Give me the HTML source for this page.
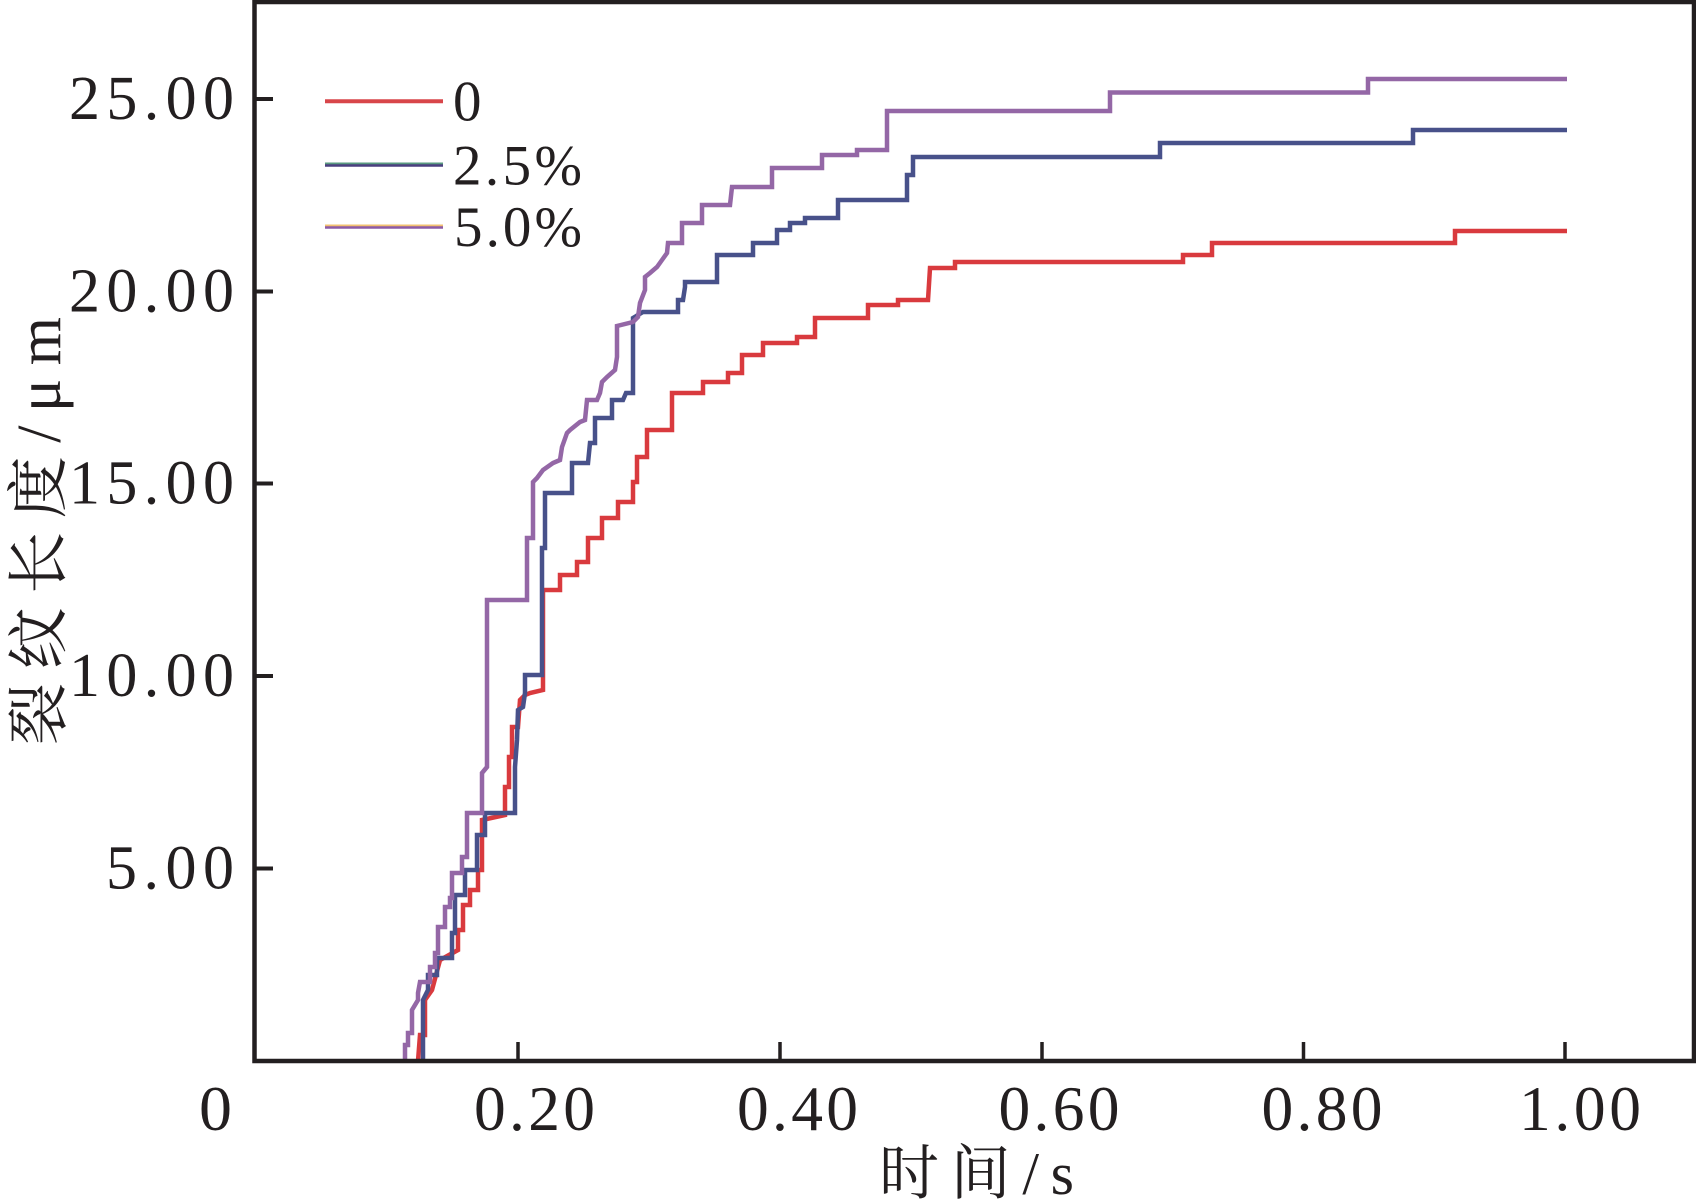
<!DOCTYPE html>
<html><head><meta charset="utf-8"><style>
html,body{margin:0;padding:0;background:#fff;}
svg{display:block;}
.num{font-family:"Liberation Serif","Noto Serif CJK SC",serif;fill:#231f20;}
.cjk{font-family:"Liberation Serif","Noto Serif CJK SC","Noto Sans CJK SC",serif;fill:#231f20;}
</style></head><body>
<svg width="1696" height="1201" viewBox="0 0 1696 1201" xmlns="http://www.w3.org/2000/svg">
<rect width="1696" height="1201" fill="#fff"/>

<!-- series -->
<g fill="none" stroke-width="4.5" stroke-linejoin="miter" stroke-linecap="butt">
<polyline stroke="#d93a3e" points="418,1061 420,1035 425,1035 425,1000 432,990 440,960 458,950 458,930 463,930 463,905 470,905 470,890 478,890 478,870 482,870 482,820 505,815 505,787 509,787 509,757 512,757 512,727 518,727 520,700 525,695 530,693 543,690 543,590 560,590 560,575 577,575 577,562 588,562 588,538 602,538 602,518 618,518 618,502 633,502 633,482 637,482 637,457 647,457 647,430 672,430 672,393 703,393 703,382 728,382 728,373 742,373 742,355 763,355 763,343 797,343 797,337 815,337 815,318 868,318 868,305 898,305 898,300 928,300 930,268 955,268 955,262 1183,262 1183,255 1212,255 1212,243 1455,243 1455,231 1567,231"/>
<polyline stroke="#48518a" points="423,1061 423,1000 428,990 428,975 437,975 437,958 452,958 452,933 455,933 455,895 465,895 465,870 477,870 477,835 485,835 485,813 515,813 515,767 517,740 518,710 523,707 525,693 525,675 542,675 542,548 545,548 545,493 572,493 572,463 588,463 590,443 595,443 595,418 612,418 612,400 623,400 626,393 633,393 633,318 643,312 678,312 678,300 683,300 685,287 685,282 717,282 717,255 753,255 753,243 777,243 777,230 790,230 790,223 805,223 805,218 838,218 838,200 907,200 907,175 913,175 913,157 1160,157 1160,143 1413,143 1413,130 1567,130"/>
<polyline stroke="#9467a6" points="405,1061 405,1045 408,1045 408,1033 412,1033 412,1010 418,1000 418,993 420,982 430,982 430,967 435,967 435,953 438,953 438,927 445,927 445,907 450,907 450,898 452,898 452,873 462,873 462,857 467,857 467,813 482,813 482,773 487,767 487,600 527,600 527,538 533,538 533,482 537,478 543,470 553,463 560,460 562,447 567,433 570,430 580,422 585,420 587,400 597,400 600,393 602,382 607,377 615,370 617,357 617,326 633,322 638,317 640,303 645,290 645,277 650,273 657,267 662,260 667,253 668,243 682,243 682,223 702,223 702,205 730,205 732,187 772,187 772,168 822,168 822,155 857,155 857,150 887,150 887,111 1110,111 1110,92.5 1368,92.5 1368,79 1567,79"/>
</g>

<!-- frame -->
<rect x="254.5" y="2" width="1439.5" height="1059" fill="none" stroke="#231f20" stroke-width="4.5"/>

<!-- y ticks -->
<g stroke="#231f20" stroke-width="4">
<line x1="256" y1="99" x2="273" y2="99"/>
<line x1="256" y1="291.5" x2="273" y2="291.5"/>
<line x1="256" y1="483.5" x2="273" y2="483.5"/>
<line x1="256" y1="676" x2="273" y2="676"/>
<line x1="256" y1="868.5" x2="273" y2="868.5"/>
</g>
<!-- x ticks -->
<g stroke="#231f20" stroke-width="3.5">
<line x1="518" y1="1060" x2="518" y2="1042"/>
<line x1="780" y1="1060" x2="780" y2="1042"/>
<line x1="1042" y1="1060" x2="1042" y2="1042"/>
<line x1="1303.5" y1="1060" x2="1303.5" y2="1042"/>
<line x1="1565" y1="1060" x2="1565" y2="1042"/>
</g>

<!-- y tick labels -->
<g class="num" font-size="62">
<text x="69" y="119" textLength="165" lengthAdjust="spacing">25.00</text>
<text x="69" y="311.5" textLength="165" lengthAdjust="spacing">20.00</text>
<text x="69" y="503.5" textLength="165" lengthAdjust="spacing">15.00</text>
<text x="69" y="696" textLength="165" lengthAdjust="spacing">10.00</text>
<text x="106" y="888.5" textLength="128" lengthAdjust="spacing">5.00</text>
</g>

<!-- x tick labels -->
<g class="num" font-size="63.5">
<text x="199" y="1130" textLength="33" lengthAdjust="spacingAndGlyphs">0</text>
<text x="474" y="1130" textLength="121" lengthAdjust="spacing">0.20</text>
<text x="737" y="1130" textLength="121" lengthAdjust="spacing">0.40</text>
<text x="998.5" y="1130" textLength="121" lengthAdjust="spacing">0.60</text>
<text x="1261.5" y="1130" textLength="121" lengthAdjust="spacing">0.80</text>
<text x="1519" y="1130" textLength="122" lengthAdjust="spacing">1.00</text>
</g>

<!-- legend -->
<line x1="325" y1="101.3" x2="443" y2="101.3" stroke="#d8464a" stroke-width="4"/>
<line x1="325" y1="163.5" x2="443" y2="163.5" stroke="#5a9a80" stroke-width="2"/>
<line x1="325" y1="165.5" x2="443" y2="165.5" stroke="#4a3f7f" stroke-width="2.5"/>
<line x1="325" y1="225.5" x2="443" y2="225.5" stroke="#f2c070" stroke-width="2"/>
<line x1="325" y1="227.5" x2="443" y2="227.5" stroke="#8c5aa6" stroke-width="2.5"/>
<g class="num" font-size="57">
<text x="453" y="120.5">0</text>
<text x="453" y="184.5" textLength="129" lengthAdjust="spacing">2.5%</text>
<text x="454" y="246" textLength="128" lengthAdjust="spacing">5.0%</text>
</g>

<!-- axis titles -->
<text class="cjk" font-size="60" x="879" y="1194" textLength="195" lengthAdjust="spacing">时间/s</text>
<text class="cjk" font-size="62" transform="translate(60,745) rotate(-90)" x="0" y="0" textLength="428" lengthAdjust="spacing">裂纹长度/μm</text>
</svg>
</body></html>
